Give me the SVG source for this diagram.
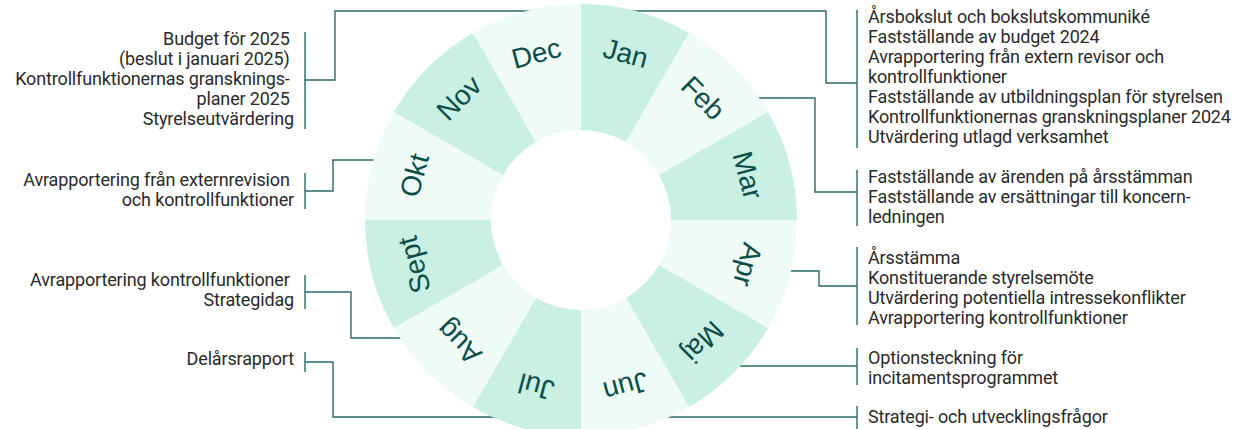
<svg xmlns="http://www.w3.org/2000/svg" width="1256" height="429" viewBox="0 0 1256 429">
<style>
.dk{fill:#c9f0e2}
.lt{fill:#effbf6}
.m{font-family:"Liberation Sans",Arial,sans-serif;font-size:28px;fill:#0d4e4a;text-anchor:middle}
.t{font-family:Roboto,"Liberation Sans",sans-serif;font-size:18px;fill:#2a2a2a;letter-spacing:-0.15px}
.r{text-anchor:start}
.l{text-anchor:end}
.c{fill:none;stroke:#2b6a6c;stroke-width:1.4}
</style>
<rect width="1256" height="429" fill="#ffffff"/>
<g id="connectors" class="c">
<path d="M600 11H826V83H857"/>
<path d="M560 11H335V80H305"/>
<path d="M700 98H815V192H857"/>
<path d="M420 160H333V191H305"/>
<path d="M420 338H351V292H305"/>
<path d="M540 417H333V362H305"/>
<path d="M760 271H819V286H857"/>
<path d="M700 366H857"/>
<path d="M640 417H857"/>
<path d="M857 10V148M857 170V226M857 247V325M857 348V385M857 406V429"/>
<path d="M305 32V129M305 173V209M305 275V309M305 352V372"/>
</g>
<g id="jan"><path class="dk" d="M581 4A216 216 0 0 1 689 32.94L626 142.06A90 90 0 0 0 581 130Z"/><text class="m" transform="rotate(15 581 220)" x="581" y="57">Jan</text></g>
<g id="feb"><path class="lt" d="M689 32.94A216 216 0 0 1 768.06 112L658.94 175A90 90 0 0 0 626 142.06Z"/><text class="m" transform="rotate(45 581 220)" x="581" y="57">Feb</text></g>
<g id="mar"><path class="dk" d="M768.06 112A216 216 0 0 1 797 220L671 220A90 90 0 0 0 658.94 175Z"/><text class="m" transform="rotate(75 581 220)" x="581" y="57">Mar</text></g>
<g id="apr"><path class="lt" d="M797 220A216 216 0 0 1 768.06 328L658.94 265A90 90 0 0 0 671 220Z"/><text class="m" transform="rotate(105 581 220)" x="581" y="57">Apr</text></g>
<g id="maj"><path class="dk" d="M768.06 328A216 216 0 0 1 689 407.06L626 297.94A90 90 0 0 0 658.94 265Z"/><text class="m" transform="rotate(135 581 220)" x="581" y="57">Maj</text></g>
<g id="jun"><path class="lt" d="M689 407.06A216 216 0 0 1 581 436L581 310A90 90 0 0 0 626 297.94Z"/><text class="m" transform="rotate(165 581 220)" x="581" y="57">Jun</text></g>
<g id="jul"><path class="dk" d="M581 436A216 216 0 0 1 473 407.06L536 297.94A90 90 0 0 0 581 310Z"/><text class="m" transform="rotate(195 581 220)" x="581" y="57">Jul</text></g>
<g id="aug"><path class="lt" d="M473 407.06A216 216 0 0 1 393.94 328L503.06 265A90 90 0 0 0 536 297.94Z"/><text class="m" transform="rotate(225 581 220)" x="581" y="57">Aug</text></g>
<g id="sept"><path class="dk" d="M393.94 328A216 216 0 0 1 365 220L491 220A90 90 0 0 0 503.06 265Z"/><text class="m" transform="rotate(255 581 220)" x="581" y="57">Sept</text></g>
<g id="okt"><path class="lt" d="M365 220A216 216 0 0 1 393.94 112L503.06 175A90 90 0 0 0 491 220Z"/><text class="m" transform="rotate(285 581 220)" x="581" y="57">Okt</text></g>
<g id="nov"><path class="dk" d="M393.94 112A216 216 0 0 1 473 32.94L536 142.06A90 90 0 0 0 503.06 175Z"/><text class="m" transform="rotate(315 581 220)" x="581" y="57">Nov</text></g>
<g id="dec"><path class="lt" d="M473 32.94A216 216 0 0 1 581 4L581 130A90 90 0 0 0 536 142.06Z"/><text class="m" transform="rotate(345 581 220)" x="581" y="57">Dec</text></g>
<g id="note-jan"><text class="t r">
<tspan x="868" y="23">Årsbokslut och bokslutskommuniké</tspan>
<tspan x="868" y="43">Fastställande av budget 2024</tspan>
<tspan x="868" y="63">Avrapportering från extern revisor och</tspan>
<tspan x="868" y="83">kontrollfunktioner</tspan>
<tspan x="868" y="103">Fastställande av utbildningsplan för styrelsen</tspan>
<tspan x="868" y="123">Kontrollfunktionernas granskningsplaner 2024</tspan>
<tspan x="868" y="143">Utvärdering utlagd verksamhet</tspan>
</text></g>
<g id="note-mar"><text class="t r">
<tspan x="868" y="183">Fastställande av ärenden på årsstämman</tspan>
<tspan x="868" y="203">Fastställande av ersättningar till koncern-</tspan>
<tspan x="868" y="223">ledningen</tspan>
</text></g>
<g id="note-apr"><text class="t r">
<tspan x="868" y="264">Årsstämma</tspan>
<tspan x="868" y="284">Konstituerande styrelsemöte</tspan>
<tspan x="868" y="304">Utvärdering potentiella intressekonflikter</tspan>
<tspan x="868" y="324">Avrapportering kontrollfunktioner</tspan>
</text></g>
<g id="note-maj"><text class="t r">
<tspan x="868" y="364">Optionsteckning för</tspan>
<tspan x="868" y="384">incitamentsprogrammet</tspan>
</text></g>
<g id="note-jun"><text class="t r" x="868" y="423">Strategi- och utvecklingsfrågor</text></g>
<g id="note-nov"><text class="t l">
<tspan x="294" y="45">Budget för 2025</tspan>
<tspan x="294" y="65">(beslut i januari 2025)</tspan>
<tspan x="294" y="85">Kontrollfunktionernas gransknings-</tspan>
<tspan x="294" y="105">planer 2025</tspan>
<tspan x="294" y="125">Styrelseutvärdering</tspan>
</text></g>
<g id="note-okt"><text class="t l">
<tspan x="294" y="186">Avrapportering från externrevision</tspan>
<tspan x="294" y="206">och kontrollfunktioner</tspan>
</text></g>
<g id="note-sept"><text class="t l">
<tspan x="294" y="286">Avrapportering kontrollfunktioner</tspan>
<tspan x="294" y="306">Strategidag</tspan>
</text></g>
<g id="note-jul"><text class="t l" x="294" y="365">Delårsrapport</text></g>
</svg>
